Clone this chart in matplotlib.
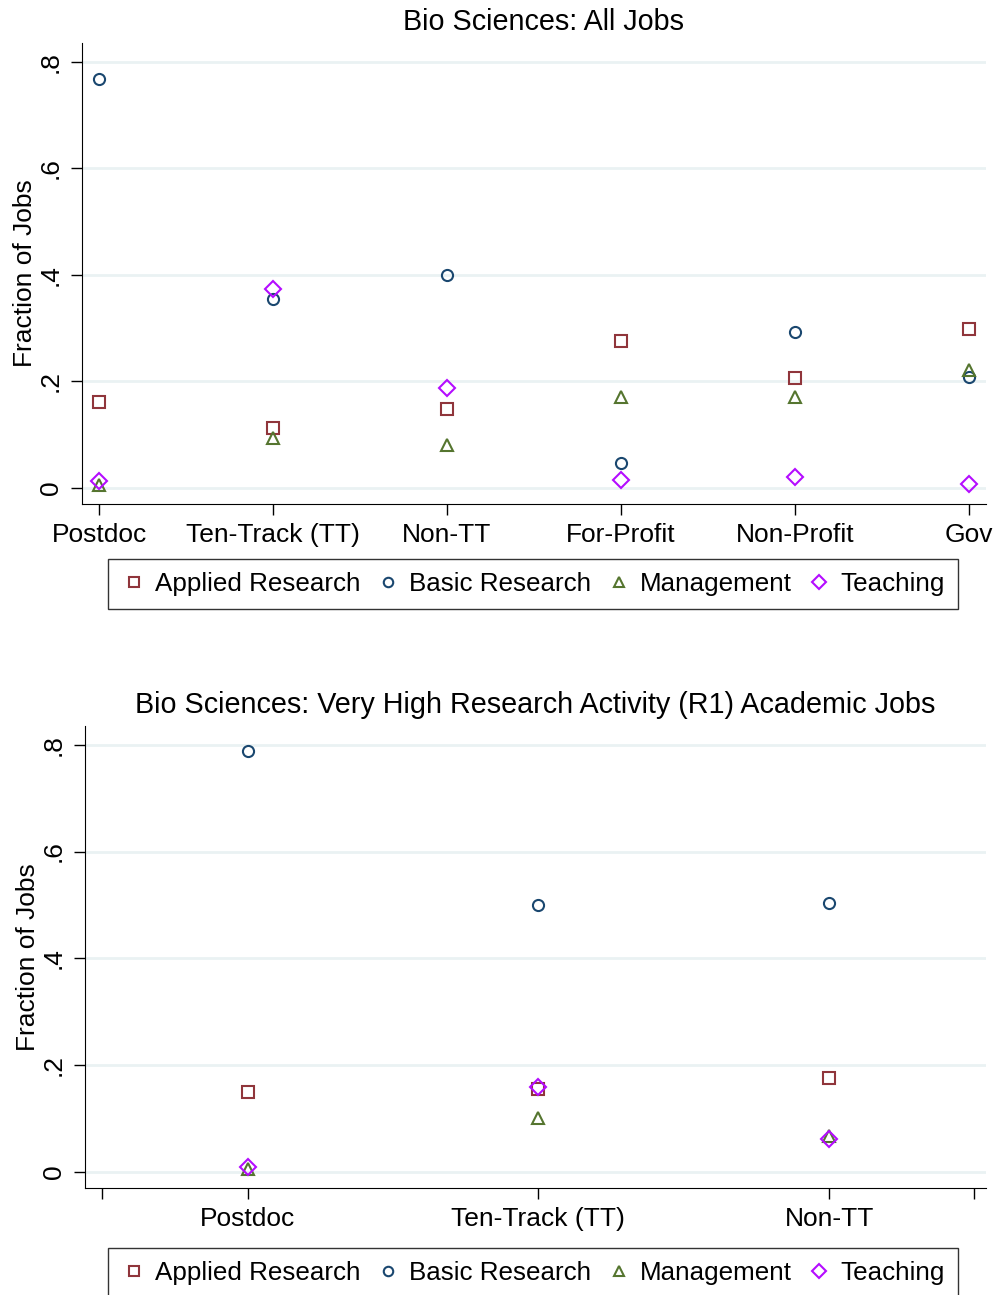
import matplotlib.pyplot as plt

plt.rcParams['font.family'] = ['Liberation Sans', 'DejaVu Sans']

# top panel: all jobs
all_jobs_categories = ['Postdoc', 'Ten-Track (TT)', 'Non-TT', 'For-Profit', 'Non-Profit', 'Gov']
all_applied = [0.162, 0.112, 0.149, 0.276, 0.207, 0.299]
all_basic = [0.767, 0.354, 0.399, 0.047, 0.293, 0.209]
all_management = [0.005, 0.093, 0.080, 0.170, 0.170, 0.222]
all_teaching = [0.013, 0.373, 0.188, 0.015, 0.021, 0.008]

# bottom panel: R1 academic jobs
r1_categories = ['Postdoc', 'Ten-Track (TT)', 'Non-TT']
r1_applied = [0.150, 0.155, 0.176]
r1_basic = [0.788, 0.500, 0.504]
r1_management = [0.006, 0.101, 0.067]
r1_teaching = [0.009, 0.159, 0.062]

series_names = ['Applied Research', 'Basic Research', 'Management', 'Teaching']
series_markers = ['s', 'o', '^', 'D']
series_colors = ['#90353b', '#1a476f', '#55752f', '#b40cff']
series_sizes = [9, 8, 8.5, 8]

grid_color = '#eaf2f3'


def draw_panel(fig, ax, categories, series, title, title_x, xlim, extra_ticks, legend_top):
    positions = list(range(1, len(categories) + 1))
    for values, name, marker, color, size in zip(series, series_names, series_markers,
                                                  series_colors, series_sizes):
        ax.plot(positions, values, linestyle='none', marker=marker, markersize=size,
                markerfacecolor='none', markeredgecolor=color, markeredgewidth=1.5,
                label=name, clip_on=False, zorder=3)

    ax.set_xlim(*xlim)
    ax.set_ylim(-0.03, 0.835)
    ax.set_yticks([0, 0.2, 0.4, 0.6, 0.8])
    ax.set_yticklabels(['0', '.2', '.4', '.6', '.8'], rotation=90, va='center', fontsize=19)
    ax.set_xticks(positions + extra_ticks)
    ax.set_xticklabels(categories + [''] * len(extra_ticks), fontsize=19)
    ax.yaxis.grid(True, color=grid_color, linewidth=2)
    ax.set_axisbelow(True)
    ax.spines['top'].set_visible(False)
    ax.spines['right'].set_visible(False)
    ax.tick_params(axis='both', length=8, width=1, pad=6)
    ax.set_ylabel('Fraction of Jobs', fontsize=19, labelpad=1)
    ax.set_title(title, fontsize=20.7, pad=9, x=title_x)

    leg = ax.legend(loc='upper center', bbox_to_anchor=(0.535, legend_top),
                    bbox_transform=fig.transFigure, ncol=4,
                    fontsize=18.7, frameon=True, fancybox=False, edgecolor='black',
                    markerscale=0.85, handletextpad=0.3, columnspacing=0.57,
                    handlelength=1.0, borderpad=0.5, borderaxespad=0)
    leg.get_frame().set_linewidth(1.0)


fig = plt.figure(figsize=(9.96, 12.95), dpi=100)
ax_top = fig.add_axes([0.0823, 0.6108, 0.9077, 0.356])
ax_bottom = fig.add_axes([0.0853, 0.0826, 0.9047, 0.3568])

draw_panel(fig, ax_top, all_jobs_categories,
           [all_applied, all_basic, all_management, all_teaching],
           'Bio Sciences: All Jobs', 0.51, (0.902, 6.098), [], 1 - 559 / 1295)
draw_panel(fig, ax_bottom, r1_categories,
           [r1_applied, r1_basic, r1_management, r1_teaching],
           'Bio Sciences: Very High Research Activity (R1) Academic Jobs', 0.5,
           (0.44, 3.54), [0.5, 3.5], 1 - 1248 / 1295)

fig.savefig('out.png', dpi=100)
